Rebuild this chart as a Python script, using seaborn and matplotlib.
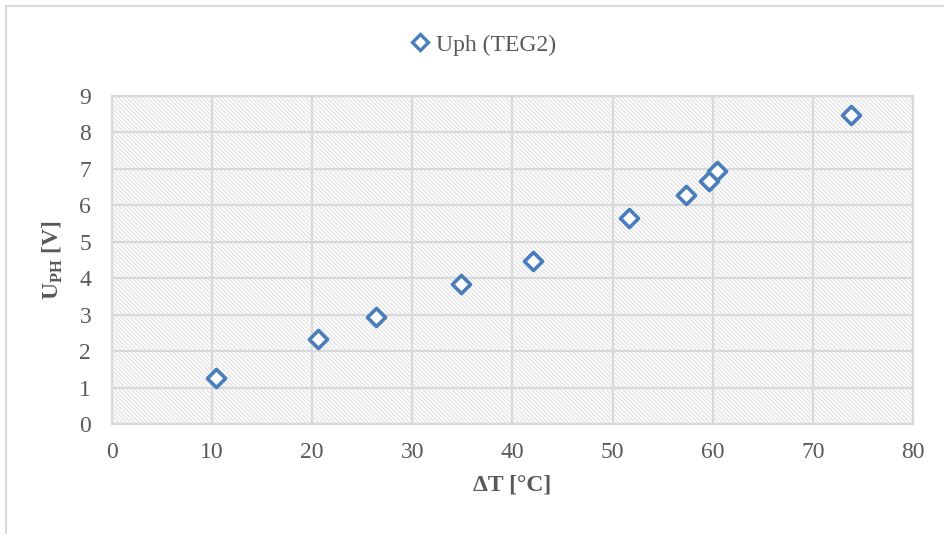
import numpy as np
import pandas as pd
import matplotlib
matplotlib.use('Agg')
import matplotlib.pyplot as plt
from matplotlib.patches import Rectangle
from matplotlib.lines import Line2D
import seaborn as sns

# data
delta_t = [10.4, 20.6, 26.4, 34.9, 42.1, 51.6, 57.3, 59.6, 60.4, 73.8]
u_ph = [1.26, 2.33, 2.94, 3.85, 4.48, 5.66, 6.29, 6.68, 6.95, 8.49]
series_name = 'Uph (TEG2)'
x_ticks = [0, 10, 20, 30, 40, 50, 60, 70, 80]
y_ticks = [0, 1, 2, 3, 4, 5, 6, 7, 8, 9]

df = pd.DataFrame({'dT': delta_t, 'U': u_ph, 'series': series_name})

sns.set_style('white')
plt.rcParams['font.family'] = ['Liberation Serif', 'DejaVu Serif']
plt.rcParams['mathtext.fontset'] = 'custom'
plt.rcParams['mathtext.rm'] = 'Liberation Serif:bold'
plt.rcParams['mathtext.bf'] = 'Liberation Serif:bold'
plt.rcParams['hatch.color'] = '#e3e3e3'
plt.rcParams['hatch.linewidth'] = 0.9

text_col = '#595959'
grid_col = '#d9d9d9'
blue = '#4a7ebb'

fig = plt.figure(figsize=(9.45, 5.34), dpi=100)
ax = fig.add_axes([0.1185, 0.206, 0.966 - 0.1185, 0.8202 - 0.206])

# hatched plot area
ax.add_patch(Rectangle((0, 0), 1, 1, transform=ax.transAxes, facecolor='white',
                       edgecolor='#e3e3e3', hatch='\\' * 8, linewidth=0, zorder=0))

sns.scatterplot(data=df, x='dT', y='U', marker='D', s=85, facecolor='white',
                edgecolor=blue, linewidth=2.6, legend=False, zorder=3, ax=ax)

ax.set_xlim(0, 80)
ax.set_ylim(0, 9)
ax.set_xticks(x_ticks)
ax.set_yticks(y_ticks)
ax.grid(True, color=grid_col, linewidth=1.6, zorder=1)
ax.set_axisbelow(True)
for sp in ax.spines.values():
    sp.set_color(grid_col)
    sp.set_linewidth(1.6)
ax.tick_params(axis='both', length=0, labelsize=17, labelcolor=text_col)
ax.tick_params(axis='x', pad=13)
ax.tick_params(axis='y', pad=15)

ax.set_xlabel('ΔT [°C]', fontsize=17, fontweight='bold', color=text_col, labelpad=8)
ax.set_ylabel(r'U$_{\mathrm{PH}}$ [V]', fontsize=17, fontweight='bold', color=text_col, labelpad=10)

handle = Line2D([], [], marker='D', linestyle='none', markersize=8, markerfacecolor='white',
                markeredgecolor=blue, markeredgewidth=2.4)
fig.legend([handle], [series_name], loc='center', bbox_to_anchor=(0.51, 1 - 45 / 534),
           frameon=False, fontsize=17, labelcolor=text_col, handletextpad=0.2,
           handlelength=1.0)

# chart frame (top and left edges visible)
fig.add_artist(Line2D([6 / 945, 6 / 945], [0, 1 - 6 / 534], color=grid_col, linewidth=1.5))
fig.add_artist(Line2D([6 / 945, 1], [1 - 6 / 534, 1 - 6 / 534], color=grid_col, linewidth=1.5))

plt.savefig('out.png', dpi=100)
